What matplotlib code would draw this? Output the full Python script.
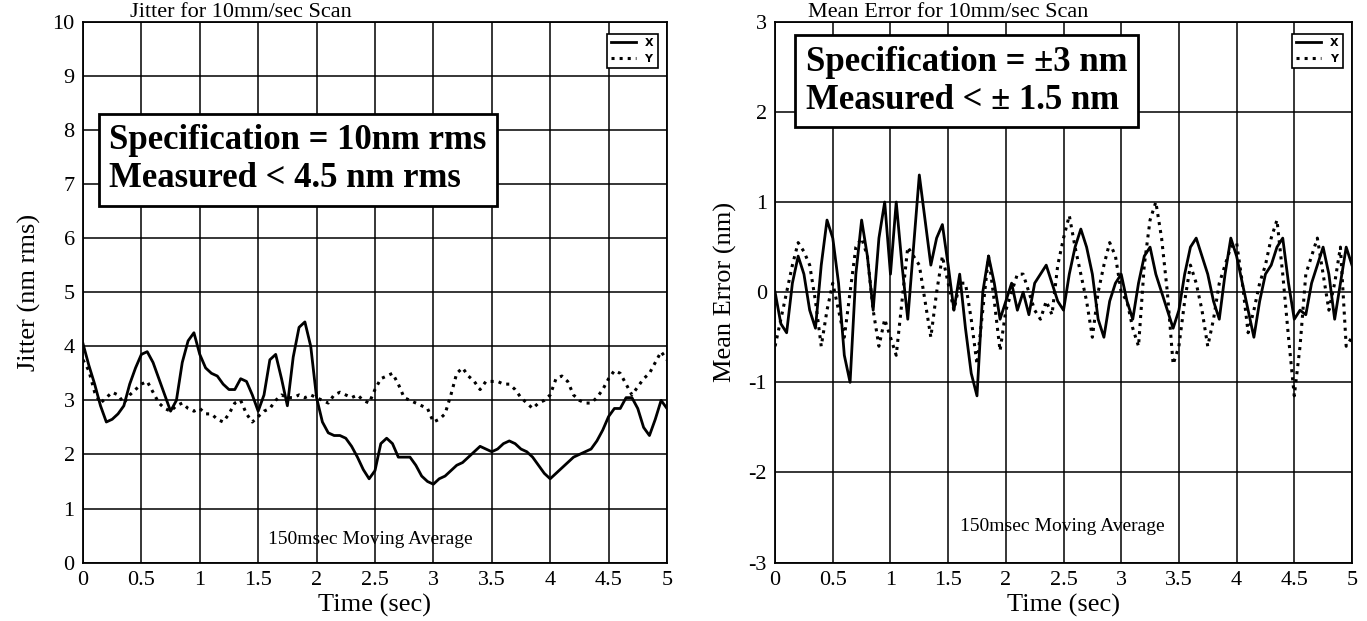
import numpy as np
import matplotlib.pyplot as plt

plt.rcParams['font.family'] = ['Liberation Serif', 'DejaVu Serif']

# ---- data ----
time_s = np.linspace(0, 5, 101)   # 50 ms sampling of the moving average

jitter_x = [4.05, 3.65, 3.3, 2.9, 2.6, 2.65, 2.75, 2.9, 3.3, 3.6,
            3.85, 3.9, 3.7, 3.4, 3.1, 2.8, 3.0, 3.7, 4.1, 4.25,
            3.85, 3.6, 3.5, 3.45, 3.3, 3.2, 3.2, 3.4, 3.35, 3.1,
            2.8, 3.1, 3.75, 3.85, 3.4, 2.9, 3.8, 4.35, 4.45, 4.0,
            3.05, 2.6, 2.4, 2.35, 2.35, 2.3, 2.15, 1.95, 1.72, 1.55,
            1.7, 2.2, 2.3, 2.2, 1.95, 1.95, 1.95, 1.8, 1.6, 1.5,
            1.45, 1.55, 1.6, 1.7, 1.8, 1.85, 1.95, 2.05, 2.15, 2.1,
            2.05, 2.1, 2.2, 2.25, 2.2, 2.1, 2.05, 1.95, 1.8, 1.65,
            1.55, 1.65, 1.75, 1.85, 1.95, 2.0, 2.05, 2.1, 2.25, 2.45,
            2.7, 2.85, 2.85, 3.05, 3.05, 2.85, 2.5, 2.35, 2.65, 3.0,
            2.85]
jitter_y = [3.75, 3.55, 3.15, 2.95, 3.05, 3.15, 3.1, 2.95, 3.1, 3.2,
            3.3, 3.35, 3.15, 2.95, 2.85, 2.8, 2.9, 2.95, 2.85, 2.8,
            2.85, 2.75, 2.75, 2.65, 2.6, 2.75, 2.95, 3.0, 2.75, 2.6,
            2.7, 2.8, 2.85, 3.0, 3.1, 3.05, 3.05, 3.1, 3.05, 3.1,
            3.05, 3.0, 2.95, 3.1, 3.15, 3.1, 3.05, 3.1, 3.0, 2.95,
            3.2, 3.4, 3.45, 3.5, 3.3, 3.05, 3.0, 2.95, 2.9, 2.85,
            2.6, 2.65, 2.75, 3.1, 3.5, 3.6, 3.45, 3.35, 3.2, 3.35,
            3.35, 3.35, 3.3, 3.3, 3.2, 3.05, 2.95, 2.85, 2.95, 3.0,
            3.1, 3.4, 3.45, 3.35, 3.1, 3.0, 2.95, 2.95, 3.05, 3.2,
            3.4, 3.55, 3.5, 3.3, 3.1, 3.25, 3.4, 3.5, 3.7, 3.9,
            3.75]

mean_x = [0.0, -0.35, -0.45, 0.1, 0.4, 0.2, -0.2, -0.4, 0.3, 0.8,
          0.6, 0.1, -0.7, -1.0, 0.2, 0.8, 0.4, -0.2, 0.6, 1.0,
          0.2, 1.0, 0.3, -0.3, 0.5, 1.3, 0.8, 0.3, 0.6, 0.75,
          0.3, -0.2, 0.2, -0.4, -0.9, -1.15, 0.0, 0.4, 0.1, -0.3,
          -0.1, 0.1, -0.2, 0.0, -0.25, 0.1, 0.2, 0.3, 0.1, -0.1,
          -0.2, 0.2, 0.5, 0.7, 0.5, 0.2, -0.3, -0.5, -0.1, 0.1,
          0.2, -0.1, -0.3, 0.1, 0.4, 0.5, 0.2, 0.0, -0.2, -0.4,
          -0.2, 0.2, 0.5, 0.6, 0.4, 0.2, -0.1, -0.3, 0.2, 0.6,
          0.4, 0.1, -0.2, -0.5, -0.1, 0.2, 0.3, 0.5, 0.6, 0.1,
          -0.3, -0.2, -0.25, 0.1, 0.3, 0.5, 0.2, -0.3, 0.1, 0.5,
          0.3]
mean_y = [-0.6, -0.3, 0.0, 0.3, 0.55, 0.45, 0.3, -0.1, -0.6, -0.2,
          0.1, -0.2, -0.5, 0.0, 0.5, 0.6, 0.4, -0.2, -0.6, -0.3,
          -0.5, -0.7, -0.1, 0.5, 0.4, 0.3, -0.1, -0.5, 0.0, 0.4,
          0.1, -0.2, 0.1, 0.1, -0.3, -0.8, -0.2, 0.4, -0.1, -0.65,
          -0.2, 0.0, 0.2, 0.2, 0.0, -0.2, -0.3, -0.1, -0.25, 0.3,
          0.6, 0.85, 0.5, 0.2, -0.1, -0.5, 0.0, 0.3, 0.55, 0.4,
          0.0, -0.1, -0.4, -0.6, 0.3, 0.8, 1.0, 0.6, 0.0, -0.8,
          -0.6, -0.1, 0.3, 0.1, -0.2, -0.6, -0.3, 0.1, 0.3, 0.5,
          0.55, 0.1, -0.45, -0.2, 0.1, 0.3, 0.6, 0.8, 0.2, -0.5,
          -1.15, -0.6, 0.2, 0.4, 0.6, 0.2, -0.2, 0.1, 0.5, -0.6,
          -0.5]

x_ticks = [0, 0.5, 1, 1.5, 2, 2.5, 3, 3.5, 4, 4.5, 5]
x_labels = ['0', '0.5', '1', '1.5', '2', '2.5', '3', '3.5', '4', '4.5', '5']
jitter_ticks = list(range(0, 11))
mean_ticks = list(range(-3, 4))

fig = plt.figure(figsize=(13.67, 6.21), dpi=100)
ax1 = fig.add_axes([0.0607, 0.094, 0.4272, 0.871])
ax2 = fig.add_axes([0.567, 0.094, 0.422, 0.871])


def style_axes(ax, yticks):
    ax.set_xlim(0, 5)
    ax.set_ylim(yticks[0], yticks[-1])
    ax.set_xticks(x_ticks)
    ax.set_xticklabels(x_labels)
    ax.set_yticks(yticks)
    ax.set_yticklabels([str(v) for v in yticks])
    ax.tick_params(length=0, labelsize=16, pad=6)
    ax.grid(True, color='black', lw=1.1)
    for s in ax.spines.values():
        s.set_linewidth(1.3)
    ax.set_xlabel('Time (sec)', fontsize=19, labelpad=3)


# ---- left: jitter ----
ax1.plot(time_s, jitter_x, color='black', lw=2.0, label='X', zorder=3)
ax1.plot(time_s, jitter_y, color='black', lw=2.2, ls=':', label='Y', zorder=3)
style_axes(ax1, jitter_ticks)
ax1.set_ylabel('Jitter (nm rms)', fontsize=19, labelpad=8)
ax1.set_title('Jitter for 10mm/sec Scan', fontsize=16, x=0.27, pad=3)
ax1.text(1.84, 7.45, 'Specification = 10nm rms\nMeasured < 4.5 nm rms',
         fontsize=25, fontweight='bold', ha='center', va='center',
         multialignment='left', linespacing=1.2,
         bbox=dict(boxstyle='square,pad=0.3', fc='white', ec='black', lw=2), zorder=5)
ax1.text(2.46, 0.42, '150msec Moving Average', fontsize=14, ha='center', va='center')

# ---- right: mean error ----
ax2.plot(time_s, mean_x, color='black', lw=2.0, label='X', zorder=3)
ax2.plot(time_s, mean_y, color='black', lw=2.2, ls=':', label='Y', zorder=3)
style_axes(ax2, mean_ticks)
ax2.set_ylabel('Mean Error (nm)', fontsize=19, labelpad=8)
ax2.set_title('Mean Error for 10mm/sec Scan', fontsize=16, x=0.30, pad=3)
ax2.text(1.66, 2.34, 'Specification = \u00b13 nm\nMeasured < \u00b1 1.5 nm',
         fontsize=25, fontweight='bold', ha='center', va='center',
         multialignment='left', linespacing=1.2,
         bbox=dict(boxstyle='square,pad=0.3', fc='white', ec='black', lw=2), zorder=5)
ax2.text(2.49, -2.6, '150msec Moving Average', fontsize=14, ha='center', va='center')

for ax in (ax1, ax2):
    leg = ax.legend(loc='upper right', bbox_to_anchor=(0.984, 0.978), borderaxespad=0,
                    handlelength=2.2, fancybox=False, framealpha=1,
                    prop={'family': 'DejaVu Sans', 'weight': 'bold', 'size': 8})
    leg.get_frame().set_edgecolor('black')
    leg.get_frame().set_linewidth(1.2)
    leg.set_zorder(6)

fig.savefig('out.png', dpi=100)
